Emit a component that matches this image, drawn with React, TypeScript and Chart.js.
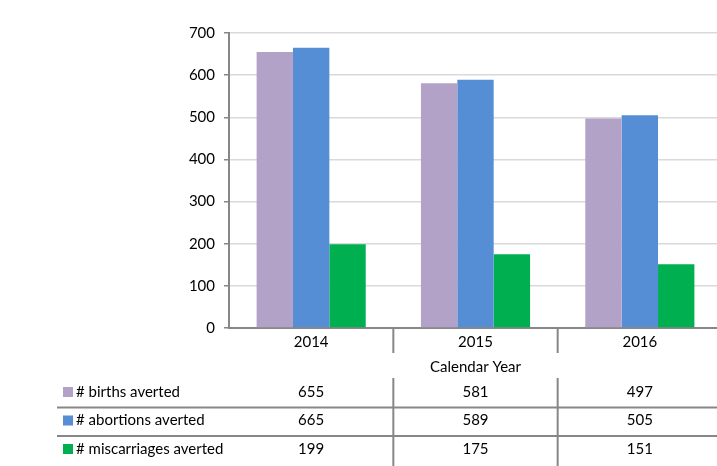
import { useEffect, useRef } from 'react';
import { Chart, registerables } from 'chart.js';

Chart.register(...registerables);

const categories = ['2014', '2015', '2016'];
const births = [655, 581, 497];
const abortions = [665, 589, 505];
const miscarriages = [199, 175, 151];
const seriesLabels = ['# births averted', '# abortions averted', '# miscarriages averted'];
const seriesColors = ['#b3a2c7', '#558ed5', '#00b050'];
const xTitle = 'Calendar Year';
const yMin = 0;
const yMax = 700;
const yStep = 100;

const FONT = 'Lato, "Open Sans", sans-serif';
const FSIZE = 15;
const AXIS = '#878787';
const TEXT = '#000000';

const tablePlugin = {
  id: 'dataTable',
  afterDraw(chart: any) {
    const ctx = chart.ctx as CanvasRenderingContext2D;
    const xs = chart.scales.x;
    const area = chart.chartArea;
    const n = categories.length;
    const half = (xs.getPixelForValue(1) - xs.getPixelForValue(0)) / 2;
    const bounds: number[] = [];
    for (let i = 0; i <= n; i++) bounds.push(xs.getPixelForValue(i) - half);

    ctx.save();
    ctx.strokeStyle = AXIS;
    ctx.lineWidth = 2;
    for (let i = 1; i < n; i++) {
      ctx.beginPath();
      ctx.moveTo(bounds[i], area.bottom);
      ctx.lineTo(bounds[i], area.bottom + 25);
      ctx.stroke();
    }
    ctx.fillStyle = TEXT;
    ctx.font = `${FSIZE}px ${FONT}`;
    ctx.textAlign = 'center';
    ctx.textBaseline = 'middle';
    ctx.fillText(xTitle, (area.left + area.right) / 2, 367);

    const rowY = [392, 420.5, 449];
    const rowLines = [407.5, 436];
    const tableTop = 378;
    const tableLeft = 57;
    for (const ly of rowLines) {
      ctx.beginPath();
      ctx.moveTo(tableLeft, ly);
      ctx.lineTo(chart.width, ly);
      ctx.stroke();
    }
    for (let i = 1; i < n; i++) {
      ctx.beginPath();
      ctx.moveTo(bounds[i], tableTop);
      ctx.lineTo(bounds[i], chart.height);
      ctx.stroke();
    }
    const values = [births, abortions, miscarriages];
    for (let r = 0; r < values.length; r++) {
      ctx.fillStyle = seriesColors[r];
      ctx.fillRect(63, rowY[r] - 5, 10, 10);
      ctx.fillStyle = TEXT;
      ctx.textAlign = 'left';
      ctx.fillText(seriesLabels[r], 76, rowY[r]);
      ctx.textAlign = 'center';
      for (let c = 0; c < n; c++) {
        ctx.fillText(String(values[r][c]), xs.getPixelForValue(c), rowY[r]);
      }
    }
    ctx.restore();
  },
};

export default function App() {
  const ref = useRef<HTMLCanvasElement>(null);
  useEffect(() => {
    const chart = new Chart(ref.current!, {
      type: 'bar',
      data: {
        labels: categories,
        datasets: [
          { label: seriesLabels[0], data: births, backgroundColor: seriesColors[0] },
          { label: seriesLabels[1], data: abortions, backgroundColor: seriesColors[1] },
          { label: seriesLabels[2], data: miscarriages, backgroundColor: seriesColors[2] },
        ],
      },
      options: {
        responsive: false,
        animation: false,
        devicePixelRatio: 1,
        layout: { padding: { left: 0, top: 33, right: 1, bottom: 0 } },
        datasets: { bar: { barPercentage: 1, categoryPercentage: 0.664 } },
        plugins: { legend: { display: false }, tooltip: { enabled: false }, title: { display: false } },
        scales: {
          x: {
            grid: { display: false, drawTicks: false },
            border: { color: AXIS, width: 2 },
            ticks: { color: TEXT, font: { family: FONT, size: FSIZE }, padding: 5 },
            afterFit(scale: any) { scale.height = 138; },
          },
          y: {
            min: yMin,
            max: yMax,
            ticks: { stepSize: yStep, color: TEXT, font: { family: FONT, size: FSIZE }, padding: 9 },
            grid: { color: '#d9d9d9', lineWidth: 1.5, tickColor: AXIS, tickLength: 5 },
            border: { color: AXIS, width: 2 },
            afterFit(scale: any) { scale.width = 229; },
          },
        },
      },
      plugins: [tablePlugin],
    });
    return () => chart.destroy();
  }, []);
  return (
    <div style={{ position: 'absolute', left: 0, top: 0, width: 717, height: 466, overflow: 'hidden', background: '#fff' }}>
      <canvas ref={ref} width={723} height={466} style={{ width: 723, height: 466, display: 'block' }} />
    </div>
  );
}
